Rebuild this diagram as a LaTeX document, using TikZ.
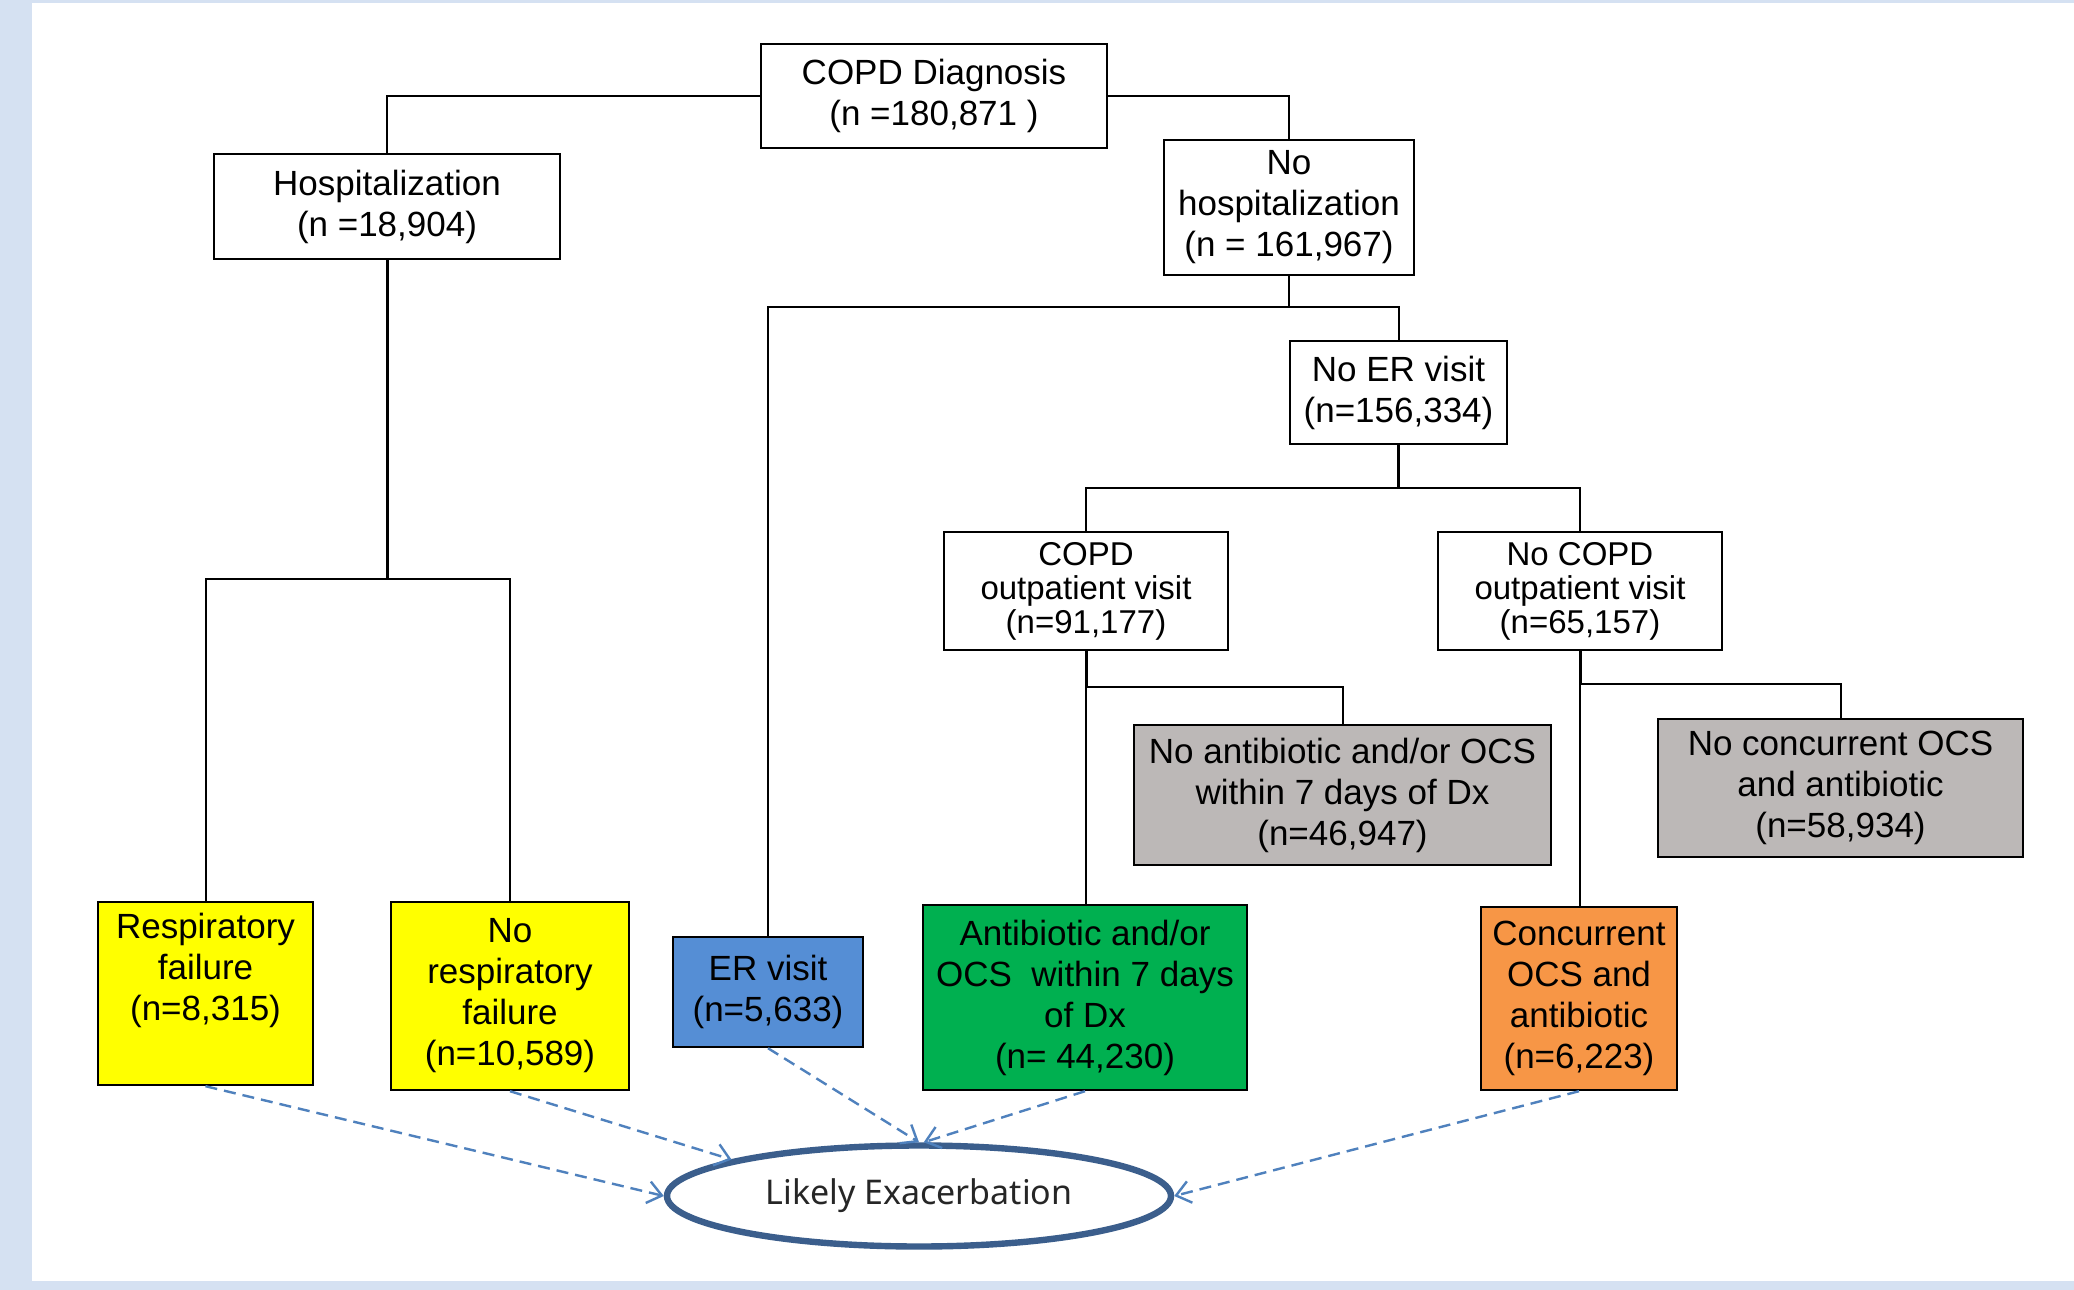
\documentclass[tikz,border=0pt]{standalone}
\usepackage{fontspec}
\setmainfont{Liberation Sans}
\newfontfamily\notosans{Noto Sans}
\usetikzlibrary{shapes.geometric,arrows.meta}
\definecolor{bgblue}{HTML}{D5E1F2}
\definecolor{boxyellow}{HTML}{FFFF00}
\definecolor{boxblue}{HTML}{558ED5}
\definecolor{boxgreen}{HTML}{00B050}
\definecolor{boxorange}{HTML}{F79646}
\definecolor{boxgray}{HTML}{BCB8B7}
\definecolor{ellblue}{HTML}{3B5E8C}
\definecolor{arrblue}{HTML}{4F81BD}
\begin{document}
\begin{tikzpicture}[x=0.5pt,y=-0.5pt,
  box/.style={draw=black, line width=1.2pt, inner sep=0pt, align=center,
    font=\fontsize{17.5}{20.5}\selectfont},
  tightbox/.style={box, font=\fontsize{16.5}{17}\selectfont},
  conn/.style={draw=black, line width=1pt},
  thickconn/.style={draw=black, line width=1.5pt},
  arr/.style={draw=arrblue, line width=1.2pt, dash pattern=on 6pt off 3.5pt,
    -{Straight Barb[length=7pt,width=11pt]}},
  ell/.style={ellipse, draw=ellblue, line width=3.2pt, fill=white, inner sep=0pt,
    font=\notosans\fontsize{17}{20}\selectfont, text=black!85}]
\fill[bgblue] (0,0) rectangle (2074,1290);
\fill[white] (32,3) rectangle (2074,1281);
\useasboundingbox (0,0) rectangle (2074,1290);

% nodes
\node[box, minimum width=173pt, minimum height=52pt] (diag) at (934,96) {COPD Diagnosis\\(n =180,871 )};
\node[box, minimum width=173pt, minimum height=52.5pt] (hosp) at (387,206.5) {Hospitalization\\(n =18,904)};
\node[box, minimum width=125pt, minimum height=67.5pt] (nohosp) at (1289,207.5) {No\\hospitalization\\(n = 161,967)};
\node[box, minimum width=108.5pt, minimum height=51.5pt] (noer) at (1398.5,392.5) {No ER visit\\(n=156,334)};
\node[tightbox, minimum width=142pt, minimum height=59pt] (copdout) at (1086,591) {COPD\\outpatient visit\\(n=91,177)};
\node[tightbox, minimum width=142pt, minimum height=59pt] (nocopdout) at (1580,591) {No COPD\\outpatient visit\\(n=65,157)};
\node[box, fill=boxgray, minimum width=208.5pt, minimum height=70pt] (noab) at (1342.5,795) {No antibiotic and/or OCS\\within 7 days of Dx\\(n=46,947)};
\node[box, fill=boxgray, minimum width=182.5pt, minimum height=69pt] (noconc) at (1840.5,788) {No concurrent OCS\\and antibiotic\\(n=58,934)};
\node[box, fill=boxyellow, minimum width=107.5pt, minimum height=91.5pt] (resp) at (205.5,993.5) {Respiratory\\failure\\(n=8,315)\\\strut};
\node[box, fill=boxyellow, minimum width=119pt, minimum height=94pt] (noresp) at (510,996) {No\\respiratory\\failure\\(n=10,589)};
\node[box, fill=boxblue, minimum width=95pt, minimum height=55pt] (er) at (768,992) {ER visit\\(n=5,633)};
\node[box, fill=boxgreen, minimum width=162pt, minimum height=92.5pt] (green) at (1085,997.5) {Antibiotic and/or\\OCS~ within 7 days\\of Dx\\(n= 44,230)};
\node[box, fill=boxorange, minimum width=98pt, minimum height=91.5pt] (orange) at (1579,998.5) {Concurrent\\OCS and\\antibiotic\\(n=6,223)};
\node[ell, minimum width=252pt, minimum height=50.5pt] (likely) at (919,1196) {Likely Exacerbation};

% junctions
\coordinate (j1) at (387,579);
\coordinate (j2) at (1289,307);
\coordinate (j3) at (1398.5,488);
\coordinate (j4) at (1086,687);
\coordinate (j5) at (1580,684);

% connectors
\draw[conn] (diag.west) -| (hosp.north);
\draw[conn] (diag.east) -| (nohosp.north);
\draw[thickconn] (hosp.south) -- (j1);
\draw[conn] (resp.north) |- (j1) -| (noresp.north);
\draw[conn] (nohosp.south) -- (j2);
\draw[conn] (er.north) |- (j2) -| (noer.north);
\draw[thickconn] (noer.south) -- (j3);
\draw[conn] (copdout.north) |- (j3) -| (nocopdout.north);
\draw[thickconn] (copdout.south) -- (j4);
\draw[conn] (j4) -- (j4 |- green.north);
\draw[conn] (j4) -| (noab.north);
\draw[thickconn] (nocopdout.south) -- (j5);
\draw[conn] (j5) -- (j5 |- orange.north);
\draw[conn] (j5) -| (noconc.north);

% dashed arrows
\draw[arr] (resp.south) -- (likely.west);
\draw[arr] (noresp.south) -- (likely.169);
\draw[arr] (er.south) -- (likely.north);
\draw[arr] (green.south) -- (likely.85);
\draw[arr] (orange.south) -- (likely.east);
\end{tikzpicture}
\end{document}
